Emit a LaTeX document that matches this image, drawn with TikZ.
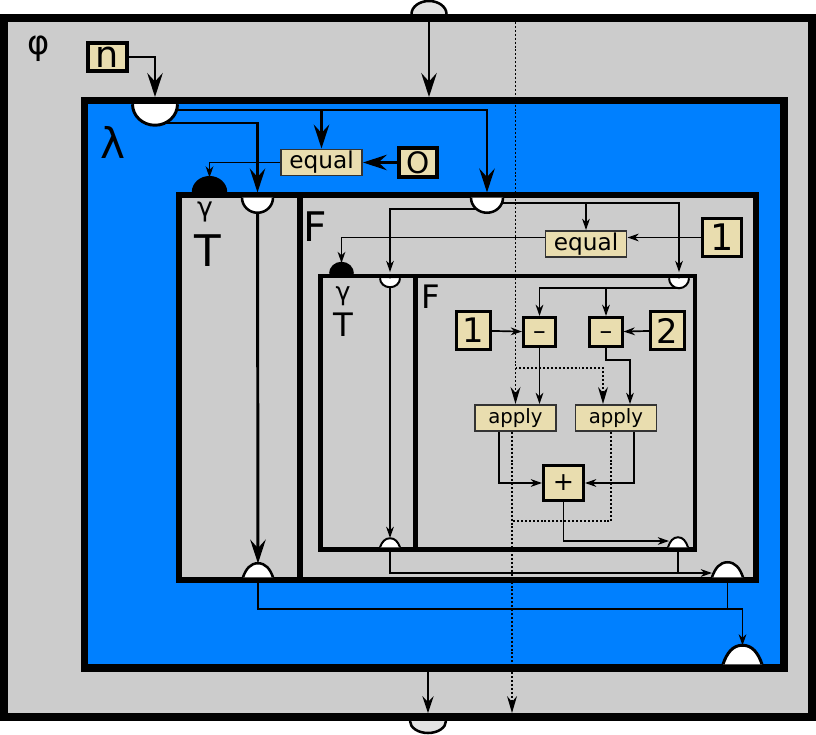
\documentclass[tikz,border=0pt]{standalone}
\usepackage{fontspec}
\setmainfont{DejaVu Sans}
\usetikzlibrary{arrows.meta, positioning, calc}
\definecolor{gris}{HTML}{CCCCCC}
\definecolor{azul}{HTML}{0080FF}
\definecolor{arena}{HTML}{E9DDAF}
\definecolor{grisclaro}{HTML}{E3E3E3}
\tikzset{
    marco/.style={draw=black, fill=gris},
    caja/.style={
        rectangle, draw=black, fill=arena,
        line width=2.1pt, inner sep=0pt
    },
    cajafina/.style={
        rectangle, draw=black!80, fill=arena,
        line width=1.3pt, inner sep=0pt,
        minimum width=57.7pt, minimum height=18.6pt
    },
    rotulo/.style={inner sep=0pt},
    puerto/.style={draw=black},
    flecha/.style={-{Stealth[length=17pt, width=11pt, inset=6pt]}, line width=2.1pt},
    flechamedia/.style={-{Stealth[length=12pt, width=8pt, inset=4pt]}, line width=1.5pt},
    flechita/.style={-{Stealth[length=8pt, width=5.5pt, inset=2.5pt]}, line width=1.2pt},
    linea/.style={line width=1.2pt},
    puntos/.style={
        line width=1.4pt, dash pattern=on 1.4pt off 1.4pt,
        -{Stealth[length=12pt, width=7pt, inset=4pt]}
    }
}

\begin{document}
\begin{tikzpicture}[x=0.025cm, y=-0.025cm]
    \useasboundingbox (0,0) rectangle (816,735);

    \draw[marco, line width=5.7pt] (4,18) rectangle (812,717);
    \draw[marco, fill=azul, line width=5.3pt] (84.5,100.5) rectangle (784,668);
    \draw[marco, line width=3.9pt] (179,195) rectangle (300,580);
    \draw[marco, line width=3.9pt] (300,195) rectangle (756,580);
    \draw[marco, line width=3.2pt] (320.5,276) rectangle (415.5,549.5);
    \draw[marco, line width=3.2pt] (415.5,276) rectangle (695,549.5);

    \node[rotulo, font=\fontsize{24pt}{24pt}\selectfont] (phi) at (39,49) {φ};
    \node[rotulo, font=\fontsize{30pt}{30pt}\selectfont] (lam) at (113,142) {λ};
    \node[rotulo, font=\fontsize{19pt}{19pt}\selectfont] (gam) at (205,212) {γ};
    \node[rotulo, font=\fontsize{31pt}{31pt}\selectfont] (ver) at (207.5,251) {T};
    \node[rotulo, font=\fontsize{29pt}{29pt}\selectfont] (fal) at (315.5,227) {F};
    \node[rotulo, font=\fontsize{18pt}{18pt}\selectfont] (igam) at (343,296) {γ};
    \node[rotulo, font=\fontsize{23pt}{23pt}\selectfont] (iver) at (343.5,324.5) {T};
    \node[rotulo, font=\fontsize{23pt}{23pt}\selectfont] (ifal) at (431,297) {F};

    \coordinate (phient)   at (429,18);
    \coordinate (phisal)   at (428,717);
    \coordinate (estsal)   at (512,717);
    \coordinate (lament)   at (155,100.5);
    \coordinate (lamsal)   at (742.5,668);
    \coordinate (gamcond)  at (209.5,195);
    \coordinate (gament)   at (257.5,195);
    \coordinate (gamsal)   at (258,580);
    \coordinate (fent)     at (487,195);
    \coordinate (fsal)     at (727.5,580);
    \coordinate (igamcond) at (341.5,276);
    \coordinate (igament)  at (390,276);
    \coordinate (igamsal)  at (390,549.5);
    \coordinate (ifent)    at (679,276);
    \coordinate (ifsal)    at (678,549.5);

    \node[caja, line width=2.6pt, minimum width=28pt, minimum height=20.2pt,
          font=\fontsize{26pt}{26pt}\selectfont] (n) at (107.5,57) {n};
    \node[caja, line width=2.6pt, minimum width=27.3pt, minimum height=20.2pt,
          font=\fontsize{21pt}{21pt}\selectfont] (cero) at (418,162.5) {O};
    \node[cajafina, font=\fontsize{16.5pt}{16.5pt}\selectfont] (igual) at (321.5,162.5) {equal};
    \node[caja, minimum width=27.8pt, minimum height=27.1pt,
          font=\fontsize{26pt}{26pt}\selectfont] (uno) at (722,237.5) {1};
    \node[cajafina, font=\fontsize{16.5pt}{16.5pt}\selectfont] (igual2) at (586,244) {equal};
    \node[caja, minimum width=24.2pt, minimum height=27.1pt,
          font=\fontsize{24pt}{24pt}\selectfont] (unob) at (473.5,330.5) {1};
    \node[caja, minimum width=24.2pt, minimum height=27.1pt,
          font=\fontsize{24pt}{24pt}\selectfont] (dos) at (667.5,330.5) {2};
    \node[caja, minimum width=22.8pt, minimum height=20.7pt,
          font=\fontsize{18pt}{18pt}\selectfont] (resta1) at (539.5,332) {\vphantom{+}–};
    \node[caja, minimum width=22.8pt, minimum height=20.7pt,
          font=\fontsize{18pt}{18pt}\selectfont] (resta2) at (606,332) {\vphantom{+}–};
    \node[cajafina, font=\fontsize{14pt}{14pt}\selectfont] (aplica1) at (515.5,418) {apply};
    \node[cajafina, font=\fontsize{14pt}{14pt}\selectfont] (aplica2) at (616,418) {apply};
    \node[caja, minimum width=28.5pt, minimum height=24.9pt,
          font=\fontsize{18pt}{18pt}\selectfont] (suma) at (563.5,483) {+};

    \draw[flecha, shorten >=2.5pt] (phient) -- (phient |- lament);
    \draw[flecha, shorten >=2.5pt] (n.east) -| (lament);
    \draw[flecha, shorten >=1.8pt] (lament) -- ++(0,9.5) -| (fent);
    \draw[flecha] (lament) ++(0,9.5) -| (igual);
    \draw[flecha, shorten >=1.8pt] (lament) -- ++(0,22.5) -| (gament);
    \draw[flecha] (cero) -- (igual);
    \draw[flechita, shorten >=12.4pt] (igual) -| (gamcond);
    \draw[flecha, shorten >=11.7pt] (gament) -- (gamsal);
    \draw[flechita, shorten >=16pt] (gamsal) -- ++(0,29) -| (lamsal);
    \draw[linea] (fsal) -- ++(0,29);
    \draw[flechamedia, shorten <=2.5pt, shorten >=2.8pt] (phisal |- lamsal) -- (phisal);

    \draw[flechita, shorten >=2.8pt] (fent) -- ++(0,8) -| (ifent);
    \draw[flechita] (fent) ++(0,8) -| (igual2);
    \draw[flechita, shorten >=2.8pt] (fent) -- ++(0,14) -| (igament);
    \draw[flechita] (uno.west) -- (uno.west -| igual2.east);
    \draw[flechita, shorten >=9.2pt] (uno.west -| igual2.west) -| (igamcond);

    \draw[flechita, shorten >=8.2pt] (igament) -- (igamsal);
    \draw[flechita] (ifent) -- ++(0,12) -| (resta1);
    \draw[flechita] (ifent) ++(0,12) -| (resta2);
    \draw[flechita] (unob) -- (resta1);
    \draw[flechita] (dos) -- (resta2);
    \draw[flechita] (resta1) -- (resta1 |- aplica1.north);
    \draw[flechita] (resta2) -- ++(0,28) -| ($(aplica2.north)+(14,0)$);
    \draw[flechita] ($(aplica1.south)+(-16.5,0)$) |- (suma);
    \draw[flechita] ($(aplica2.south)+(18,0)$) |- (suma);
    \draw[flechita] (suma) |- ($(ifsal)+(-9,-8.5)$);
    \draw[flechita] (igamsal) |- ($(fsal)+(-15.5,-7)$);
    \draw[linea] (ifsal) -- ++(0,23.5);

    \foreach \p/\d/\r/\h/\c/\w in {lament/3.75/22.5/21/white/2.1, gament/2.75/15.5/15/white/1.8,
        fent/2.75/16/15/white/1.8, igament/2.25/10/9/white/1.4, ifent/2.25/10/10/white/1.4,
        phisal/4/18/12/grisclaro/1.8}
        \draw[puerto, fill=\c, line width=\w pt] ($(\p)+(-\r,\d)$)
            arc[start angle=180, end angle=0, x radius=\r, y radius=\h];
    \foreach \p/\d/\r/\h/\c/\w in {phient/-4/17.5/13/grisclaro/1.8, gamcond/-2.75/16.5/15/black/1.8,
        igamcond/-2.25/11.5/11/black/1.4}
        \draw[puerto, fill=\c, line width=\w pt] ($(\p)+(-\r,\d)$)
            arc[start angle=180, end angle=360, x radius=\r, y radius=\h];
    \foreach \p/\d/\r/\h/\w in {lamsal/-3.75/19.5/19/2.1, gamsal/-2.75/15/14/1.8,
        fsal/-2.75/15.5/15/1.8, igamsal/-2.25/10/9/1.4, ifsal/-2.25/10/10/1.4}
        \draw[puerto, fill=white, line width=\w pt] ($(\p)+(-\r,\d)$)
            .. controls +(0.2*\r,-0.6*\h) and +(-0.5*\r,0) .. ($(\p)+(0,\d-\h)$)
            .. controls +(0.5*\r,0) and +(-0.2*\r,-0.6*\h) .. ($(\p)+(\r,\d)$);

    \draw[puntos] (aplica1 |- phient) -- (aplica1);
    \draw[puntos] ($(aplica1.north)+(0,-36)$) -| ($(aplica2.north)+(-13,0)$);
    \draw[puntos, shorten >=2.8pt] (estsal |- aplica1.south) -- (estsal);
    \draw[puntos, -] ($(aplica2.south)+(-5,0)$) |- ($(estsal)+(0,-196)$);

\end{tikzpicture}
\end{document}
